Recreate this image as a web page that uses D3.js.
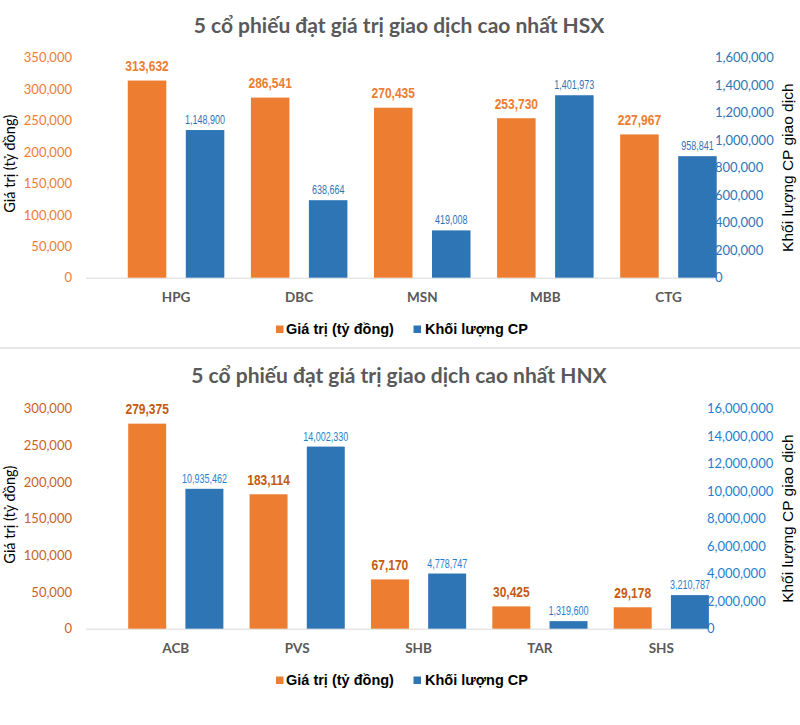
<!DOCTYPE html>
<html>
<head>
<meta charset="utf-8">
<script src="https://cdn.jsdelivr.net/npm/d3@7"></script>
<style>
  html, body { margin: 0; padding: 0; background: #ffffff; }
  svg { display: block; }
</style>
</head>
<body>
<svg id="chart" width="800" height="725"></svg>
<script>
// ---------- Data ----------
const hsxTitle = "5 cổ phiếu đạt giá trị giao dịch cao nhất HSX";
const hsxCategories = ["HPG", "DBC", "MSN", "MBB", "CTG"];
const hsxValue = [313632, 286541, 270435, 253730, 227967];
const hsxVolume = [1148900, 638664, 419008, 1401973, 958841];
const hsxValueTicks = [0, 50000, 100000, 150000, 200000, 250000, 300000, 350000];
const hsxVolumeTicks = [0, 200000, 400000, 600000, 800000, 1000000, 1200000, 1400000, 1600000];
const hsxVolumeBarOrigin = 75000;

const hnxTitle = "5 cổ phiếu đạt giá trị giao dịch cao nhất HNX";
const hnxCategories = ["ACB", "PVS", "SHB", "TAR", "SHS"];
const hnxValue = [279375, 183114, 67170, 30425, 29178];
const hnxVolume = [10935462, 14002330, 4778747, 1319600, 3210787];
const hnxValueTicks = [0, 50000, 100000, 150000, 200000, 250000, 300000];
const hnxVolumeTicks = [0, 2000000, 4000000, 6000000, 8000000, 10000000, 12000000, 14000000, 16000000];
const hnxVolumeBarOrigin = 770000;

const seriesNames = ["Giá trị (tỷ đồng)", "Khối lượng CP"];
const leftAxisTitle = "Giá trị (tỷ đồng)";
const rightAxisTitle = "Khối lượng CP giao dịch";

// ---------- Drawing ----------
const svg = d3.select("#chart");
const fmt = d3.format(",");
const ORANGE = "#ED7D31", BLUE = "#2E75B6";

function drawPanel(o) {
  const g = svg.append("g");
  const x = d3.scaleBand().domain(o.categories).range(o.bandRange);
  const xs = d3.scaleBand().domain(["value", "volume"]).range([0, x.bandwidth()])
    .paddingInner(0.336).paddingOuter(0.229);
  const yL = d3.scaleLinear().domain([0, d3.max(o.valueTicks)]).range([o.base, o.top]);
  const yR = d3.scaleLinear().domain([0, d3.max(o.volumeTicks)]).range([o.base, o.top]);
  const yB = d3.scaleLinear().domain([o.barOrigin, o.barOrigin + d3.max(o.volumeTicks)]).range([o.base, o.top]);

  // title
  g.append("text").attr("x", 399).attr("y", o.titleY)
    .attr("text-anchor", "middle")
    .attr("font-family", "Lato, 'Open Sans', sans-serif").attr("font-weight", "bold")
    .attr("font-size", 21).attr("fill", "#595959").text(o.title);

  // baseline
  g.append("line").attr("x1", 86).attr("x2", o.lineEnd)
    .attr("y1", o.base + 0.5).attr("y2", o.base + 0.5)
    .attr("stroke", "#d9d9d9").attr("stroke-width", 1);

  // left axis
  const la = g.append("g").attr("transform", "translate(86,0)")
    .call(d3.axisLeft(yL).tickValues(o.valueTicks).tickFormat(fmt).tickSize(0).tickPadding(14));
  la.select(".domain").remove();
  la.selectAll("text").attr("font-family", "Lato, sans-serif").attr("font-size", 13).attr("fill", o.leftTickColor);

  // right axis
  const ra = g.append("g").attr("transform", `translate(${o.rightAxisX},0)`)
    .call(d3.axisRight(yR).tickValues(o.volumeTicks).tickFormat(fmt).tickSize(0).tickPadding(0));
  ra.select(".domain").remove();
  ra.selectAll("text").attr("font-family", "Lato, sans-serif").attr("font-size", 13).attr("fill", o.rightTickColor);

  // category axis
  const ca = g.append("g").attr("transform", `translate(0,${o.base})`)
    .call(d3.axisBottom(x).tickSize(0).tickPadding(15));
  ca.select(".domain").remove();
  ca.selectAll("text").attr("font-family", "Lato, sans-serif").attr("font-weight", "bold")
    .attr("font-size", 13.5).attr("fill", "#595959");

  const rows = o.categories.map((c, i) => ({ c, v: o.value[i], q: o.volume[i] }));

  // value bars
  g.selectAll(".bv").data(rows).join("rect")
    .attr("x", d => x(d.c) + xs("value")).attr("width", xs.bandwidth())
    .attr("y", d => yL(d.v)).attr("height", d => o.base - yL(d.v))
    .attr("fill", ORANGE);
  // volume bars
  g.selectAll(".bq").data(rows).join("rect")
    .attr("x", d => x(d.c) + xs("volume")).attr("width", xs.bandwidth())
    .attr("y", d => yB(d.q)).attr("height", d => o.base - yB(d.q))
    .attr("fill", BLUE);

  // value labels (condensed)
  g.selectAll(".lv").data(rows).join("text")
    .attr("transform", d => `translate(${x(d.c) + xs("value") + xs.bandwidth() / 2},${yL(d.v) - 9.5}) scale(0.8,1)`)
    .attr("text-anchor", "middle")
    .attr("font-family", "'Liberation Sans', Arial, sans-serif")
    .attr("font-weight", "bold").attr("font-size", 15)
    .attr("fill", o.valueLabelColor).text(d => fmt(d.v));
  // volume labels (condensed)
  g.selectAll(".lq").data(rows).join("text")
    .attr("transform", d => `translate(${x(d.c) + xs("volume") + xs.bandwidth() / 2},${yB(d.q) - 6}) scale(0.72,1)`)
    .attr("text-anchor", "middle")
    .attr("font-family", "'Liberation Sans', Arial, sans-serif")
    .attr("font-size", 12.5)
    .attr("fill", o.volumeLabelColor).text(d => fmt(d.q));

  // axis titles
  const mid = (o.base + o.top) / 2;
  g.append("text").attr("transform", `translate(15,${mid - 4}) rotate(-90)`)
    .attr("text-anchor", "middle")
    .attr("font-family", "Lato, sans-serif").attr("font-size", 14.5).attr("fill", "#000")
    .text(leftAxisTitle);
  g.append("text").attr("transform", `translate(793,${mid}) rotate(-90)`)
    .attr("text-anchor", "middle")
    .attr("font-family", "'Liberation Sans', Arial, sans-serif").attr("font-size", 15.5).attr("fill", "#000")
    .text(rightAxisTitle);

  // legend
  const lg = g.append("g");
  const legendX = [[276, 286], [413.5, 425]];
  [ORANGE, BLUE].forEach((col, i) => {
    lg.append("rect").attr("x", legendX[i][0]).attr("y", o.legendY - 8.5).attr("width", 7.5).attr("height", 7.5).attr("fill", col);
    lg.append("text").attr("x", legendX[i][1]).attr("y", o.legendY)
      .attr("font-family", "'Liberation Sans', Arial, sans-serif").attr("font-weight", "bold")
      .attr("font-size", 14.5).attr("fill", "#000").text(seriesNames[i]);
  });
}

drawPanel({
  title: hsxTitle, titleY: 32.5,
  categories: hsxCategories, value: hsxValue, volume: hsxVolume,
  valueTicks: hsxValueTicks, volumeTicks: hsxVolumeTicks, barOrigin: hsxVolumeBarOrigin,
  bandRange: [114.5, 730], base: 277.7, top: 57.7, lineEnd: 714, rightAxisX: 715,
  leftTickColor: "#ED7D31", rightTickColor: "#2E75B6",
  valueLabelColor: "#ED7D31", volumeLabelColor: "#2E75B6", legendY: 334
});

// separator
svg.append("rect").attr("x", 0).attr("y", 347).attr("width", 800).attr("height", 2).attr("fill", "#e6e6e6");

drawPanel({
  title: hnxTitle, titleY: 383,
  categories: hnxCategories, value: hnxValue, volume: hnxVolume,
  valueTicks: hnxValueTicks, volumeTicks: hnxVolumeTicks, barOrigin: hnxVolumeBarOrigin,
  bandRange: [115.1, 722], base: 628.7, top: 408.5, lineEnd: 707, rightAxisX: 707,
  leftTickColor: "#C8621F", rightTickColor: "#1F7FD0",
  valueLabelColor: "#C55A11", volumeLabelColor: "#1F7FD0", legendY: 685
});
</script>
</body>
</html>
